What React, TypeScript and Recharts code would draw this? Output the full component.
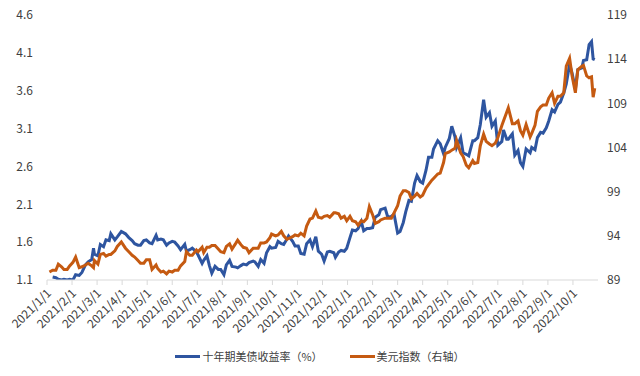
import { Legend, Line, LineChart, XAxis, YAxis } from "recharts";

// trading days (roughly twice a week), 2021/1 – 2022/10
const dates = [
  "2021-01-04", "2021-01-08", "2021-01-12", "2021-01-15", "2021-01-19", "2021-01-22", "2021-01-26", "2021-01-29",
  "2021-02-02", "2021-02-05", "2021-02-09", "2021-02-12", "2021-02-16", "2021-02-19", "2021-02-23", "2021-02-25", "2021-02-26",
  "2021-03-02", "2021-03-05", "2021-03-09", "2021-03-12", "2021-03-16", "2021-03-18", "2021-03-23", "2021-03-26", "2021-03-31",
  "2021-04-05", "2021-04-09", "2021-04-13", "2021-04-16", "2021-04-20", "2021-04-23", "2021-04-27", "2021-04-30",
  "2021-05-04", "2021-05-07", "2021-05-12", "2021-05-14", "2021-05-18", "2021-05-21", "2021-05-25", "2021-05-28",
  "2021-06-01", "2021-06-04", "2021-06-08", "2021-06-11", "2021-06-16", "2021-06-18", "2021-06-22", "2021-06-25", "2021-06-30",
  "2021-07-02", "2021-07-07", "2021-07-09", "2021-07-13", "2021-07-16", "2021-07-19", "2021-07-23", "2021-07-27", "2021-07-30",
  "2021-08-03", "2021-08-06", "2021-08-10", "2021-08-13", "2021-08-18", "2021-08-20", "2021-08-24", "2021-08-27", "2021-08-31",
  "2021-09-03", "2021-09-08", "2021-09-10", "2021-09-14", "2021-09-17", "2021-09-21", "2021-09-24", "2021-09-28", "2021-09-30",
  "2021-10-05", "2021-10-08", "2021-10-12", "2021-10-15", "2021-10-19", "2021-10-21", "2021-10-26", "2021-10-29",
  "2021-11-02", "2021-11-05", "2021-11-09", "2021-11-12", "2021-11-16", "2021-11-19", "2021-11-23", "2021-11-26", "2021-11-30",
  "2021-12-03", "2021-12-07", "2021-12-10", "2021-12-15", "2021-12-17", "2021-12-21", "2021-12-24", "2021-12-28", "2021-12-31",
  "2022-01-04", "2022-01-07", "2022-01-11", "2022-01-14", "2022-01-18", "2022-01-21", "2022-01-25", "2022-01-28",
  "2022-02-01", "2022-02-04", "2022-02-08", "2022-02-10", "2022-02-15", "2022-02-18", "2022-02-22", "2022-02-25",
  "2022-03-01", "2022-03-04", "2022-03-08", "2022-03-11", "2022-03-15", "2022-03-18", "2022-03-22", "2022-03-25", "2022-03-29",
  "2022-04-01", "2022-04-05", "2022-04-08", "2022-04-12", "2022-04-14", "2022-04-19", "2022-04-22", "2022-04-26", "2022-04-28",
  "2022-05-03", "2022-05-06", "2022-05-10", "2022-05-12", "2022-05-17", "2022-05-20", "2022-05-24", "2022-05-27",
  "2022-06-01", "2022-06-03", "2022-06-07", "2022-06-10", "2022-06-14", "2022-06-17", "2022-06-21", "2022-06-24", "2022-06-28",
  "2022-07-01", "2022-07-06", "2022-07-08", "2022-07-12", "2022-07-14", "2022-07-19", "2022-07-22", "2022-07-26", "2022-07-29",
  "2022-08-01", "2022-08-05", "2022-08-10", "2022-08-12", "2022-08-16", "2022-08-19", "2022-08-23", "2022-08-26", "2022-08-30",
  "2022-09-02", "2022-09-06", "2022-09-09", "2022-09-13", "2022-09-16", "2022-09-20", "2022-09-23", "2022-09-27", "2022-09-30",
  "2022-10-04", "2022-10-07", "2022-10-12", "2022-10-14", "2022-10-18", "2022-10-21", "2022-10-24", "2022-10-26", "2022-10-28",
];

// 十年期美债收益率 (%)
const treasury10y = [
  null, 1.14, 1.13, 1.11, 1.10, 1.11, 1.10, 1.11,
  1.10, 1.17, 1.16, 1.20, 1.30, 1.34, 1.37, 1.52, 1.44,
  1.42, 1.57, 1.54, 1.63, 1.62, 1.71, 1.63, 1.67, 1.74,
  1.71, 1.66, 1.62, 1.58, 1.56, 1.56, 1.62, 1.63,
  1.59, 1.58, 1.69, 1.63, 1.64, 1.63, 1.56, 1.59,
  1.61, 1.60, 1.55, 1.50, 1.57, 1.48, 1.50, 1.52, 1.47,
  1.43, 1.32, 1.36, 1.42, 1.29, 1.19, 1.28, 1.24, 1.24,
  1.17, 1.30, 1.36, 1.28, 1.27, 1.26, 1.29, 1.31, 1.30,
  1.33, 1.35, 1.34, 1.28, 1.37, 1.32, 1.46, 1.54, 1.52,
  1.53, 1.61, 1.58, 1.57, 1.64, 1.68, 1.61, 1.55,
  1.55, 1.45, 1.44, 1.58, 1.63, 1.54, 1.67, 1.48, 1.44,
  1.35, 1.47, 1.48, 1.46, 1.40, 1.47, 1.49, 1.48, 1.52,
  1.66, 1.76, 1.75, 1.78, 1.87, 1.75, 1.78, 1.78,
  1.79, 1.93, 1.96, 2.03, 2.05, 1.93, 1.94, 1.97,
  1.72, 1.74, 1.86, 2.00, 2.15, 2.14, 2.38, 2.48, 2.40,
  2.38, 2.55, 2.72, 2.72, 2.83, 2.94, 2.90, 2.77, 2.85,
  2.97, 3.13, 2.99, 2.85, 2.98, 2.78, 2.76, 2.74,
  2.94, 2.94, 2.98, 3.15, 3.48, 3.25, 3.31, 3.13, 3.20,
  2.88, 2.93, 3.08, 2.96, 2.96, 3.03, 2.75, 2.81, 2.65,
  2.60, 2.83, 2.78, 2.85, 2.82, 2.98, 3.05, 3.04, 3.11,
  3.20, 3.35, 3.32, 3.42, 3.45, 3.57, 3.69, 3.95, 3.83,
  3.62, 3.88, 3.90, 4.00, 4.01, 4.21, 4.25, 4.02, 4.01,
];

// 美元指数
const dollarIndex = [
  89.9, 90.1, 90.1, 90.8, 90.5, 90.2, 90.2, 90.6,
  91.0, 91.6, 90.4, 90.5, 90.7, 90.9, 90.6, 90.4, 91.2,
  90.8, 91.9, 92.0, 91.7, 91.9, 91.9, 92.3, 92.8, 93.3,
  92.6, 92.2, 91.8, 91.6, 91.2, 90.9, 90.9, 91.3,
  91.3, 90.2, 90.7, 90.3, 89.9, 90.0, 89.7, 90.0,
  89.9, 90.1, 90.1, 90.6, 91.1, 92.2, 91.8, 91.8, 92.4,
  92.2, 92.7, 92.1, 92.7, 92.7, 92.9, 92.9, 92.5, 92.2,
  92.1, 92.8, 93.1, 92.5, 93.2, 93.5, 93.0, 92.7, 92.6,
  92.1, 92.6, 92.6, 92.6, 93.2, 93.2, 93.3, 93.8, 94.2,
  94.0, 94.1, 94.5, 94.0, 93.6, 93.7, 93.9, 94.1,
  94.0, 94.3, 94.0, 95.1, 95.9, 96.0, 96.8, 96.1, 96.0,
  96.2, 96.3, 96.1, 96.6, 96.6, 96.5, 96.0, 96.2, 95.7,
  96.2, 95.7, 95.6, 95.2, 95.7, 95.6, 96.0, 97.3,
  96.4, 95.4, 95.6, 95.8, 96.0, 96.0, 96.0, 96.6,
  97.4, 98.5, 99.1, 99.1, 98.9, 98.2, 98.5, 98.8, 98.4,
  98.6, 99.4, 99.8, 100.3, 100.5, 101.0, 101.1, 102.3, 103.3,
  103.5, 103.7, 103.9, 104.8, 103.4, 103.0, 102.0, 101.7,
  102.5, 102.2, 102.3, 104.2, 105.5, 104.7, 104.4, 104.2, 104.5,
  105.1, 106.5, 107.0, 108.0, 108.5, 106.7, 106.7, 107.0, 105.9,
  105.4, 106.6, 105.2, 105.6, 106.5, 108.1, 108.6, 108.8, 108.8,
  109.6, 110.2, 109.0, 109.8, 109.8, 110.2, 113.2, 114.1, 112.1,
  110.2, 112.8, 113.2, 113.3, 112.1, 111.9, 112.0, 109.7, 110.7,
];

const monthLabels = [
  "2021/1/1", "2021/2/1", "2021/3/1", "2021/4/1", "2021/5/1", "2021/6/1",
  "2021/7/1", "2021/8/1", "2021/9/1", "2021/10/1", "2021/11/1", "2021/12/1",
  "2022/1/1", "2022/2/1", "2022/3/1", "2022/4/1", "2022/5/1", "2022/6/1",
  "2022/7/1", "2022/8/1", "2022/9/1", "2022/10/1",
];
const monthTicks = [0, 1, 2, 3, 4, 5, 6, 7, 8, 9, 10, 11, 12, 13, 14, 15, 16, 17, 18, 19, 20, 21];
const leftTicks = [1.1, 1.6, 2.1, 2.6, 3.1, 3.6, 4.1, 4.6];
const rightTicks = [89, 94, 99, 104, 109, 114, 119];

const BLUE = "#2E55A0";
const ORANGE = "#C55A11";
const FONT = "'Noto Sans CJK SC', 'Noto Sans', sans-serif";

// month index from 2021/1/1, each month the same width like the source axis
function monthPos(date: string) {
  const [y, m, d] = date.split("-").map(Number);
  const days = new Date(y, m, 0).getDate();
  return (y - 2021) * 12 + (m - 1) + (d - 1) / days;
}

const data = dates.map((date, i) => ({
  t: monthPos(date),
  yield10y: treasury10y[i],
  dxy: dollarIndex[i],
}));

function DateTick({ x, y, payload }: any) {
  return (
    <text
      x={x + 2}
      y={y}
      dy="0.35em"
      textAnchor="end"
      transform={`rotate(-45, ${x + 2}, ${y})`}
      fontSize={12}
      fontFamily={FONT}
      fill="#404040"
    >
      {monthLabels[payload.value]}
    </text>
  );
}

function LegendBox() {
  const items = [
    { name: "十年期美债收益率（%）", color: BLUE },
    { name: "美元指数（右轴）", color: ORANGE },
  ];
  return (
    <div
      style={{
        display: "flex",
        justifyContent: "center",
        gap: 27,
        paddingTop: 6,
        fontFamily: FONT,
        fontSize: 11,
        color: "#404040",
      }}
    >
      {items.map((it) => (
        <div key={it.name} style={{ display: "flex", alignItems: "center" }}>
          <span style={{ display: "inline-block", width: 25, height: 3, background: it.color, marginRight: 2 }} />
          <span>{it.name}</span>
        </div>
      ))}
    </div>
  );
}

export default function App() {
  return (
    <div style={{ position: "absolute", left: 0, top: 0, width: 640, height: 376, background: "#fff" }}>
      <LineChart width={640} height={376} data={data} margin={{ top: 15, right: 0, bottom: 0, left: 0 }}>
        <XAxis
          dataKey="t"
          type="number"
          domain={[0, 22]}
          ticks={monthTicks}
          interval={0}
          height={60}
          stroke="#D9D9D9"
          tickSize={5}
          tickMargin={6}
          tick={<DateTick />}
        />
        <YAxis
          yAxisId="left"
          domain={[1.1, 4.6]}
          ticks={leftTicks}
          allowDataOverflow
          width={47}
          axisLine={false}
          tickLine={false}
          tickSize={0}
          tickMargin={14}
          tick={{ fontSize: 12, fill: "#404040", fontFamily: FONT }}
        />
        <YAxis
          yAxisId="right"
          orientation="right"
          domain={[89, 119]}
          ticks={rightTicks}
          allowDataOverflow
          width={42}
          axisLine={false}
          tickLine={false}
          tickSize={0}
          tickMargin={9}
          tick={{ fontSize: 12, fill: "#404040", fontFamily: FONT, textAnchor: "start" }}
        />
        <Legend
          verticalAlign="bottom"
          wrapperStyle={{ height: 36, lineHeight: "20px" }}
          content={() => <LegendBox />}
        />
        <Line
          yAxisId="left"
          dataKey="yield10y"
          name="十年期美债收益率（%）"
          stroke={BLUE}
          strokeWidth={3}
          dot={false}
          type="linear"
          isAnimationActive={false}
        />
        <Line
          yAxisId="right"
          dataKey="dxy"
          name="美元指数（右轴）"
          stroke={ORANGE}
          strokeWidth={3}
          dot={false}
          type="linear"
          isAnimationActive={false}
        />
      </LineChart>
    </div>
  );
}
